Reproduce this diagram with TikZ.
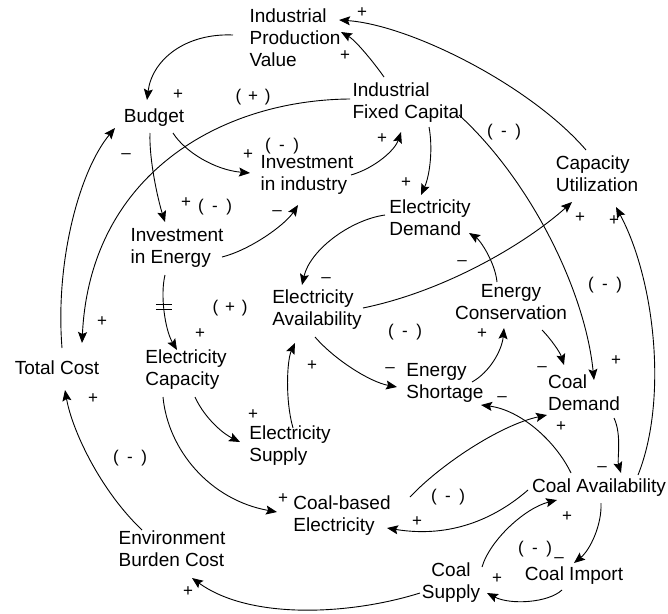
\documentclass[tikz,border=0pt]{standalone}
\usepackage{fontspec}
\setmainfont{Liberation Sans}
\usetikzlibrary{arrows.meta}
\begin{document}
\begin{tikzpicture}[x=1pt,y=-1pt,
  var/.style={font=\fontsize{19}{22}\selectfont, inner sep=0pt, align=left},
  varc/.style={var, align=center},
  arr/.style={-{Stealth[length=11pt,width=9pt,inset=2pt]}, line width=0.9pt},
  sg/.style={font=\fontsize{17}{17}\selectfont, inner sep=0pt, text height=1.5ex, text depth=0pt},
  lp/.style={font=\fontsize{17}{17}\selectfont, inner sep=0pt}]
\useasboundingbox[fill=white] (0,0) rectangle (668,613);
% variables
\node[var] (ipv) at (295,38) {Industrial\\Production\\Value};
\node[var] (bud) at (154,118) {Budget};
\node[var] (ifc) at (408,103) {Industrial\\Fixed Capital};
\node[var] (ii) at (307,175) {Investment\\in industry};
\node[var] (cu) at (597,174) {Capacity\\Utilization};
\node[var] (ie) at (177,248) {Investment\\in Energy};
\node[var] (ed) at (430,218) {Electricity\\Demand};
\node[var] (ea) at (317,310) {Electricity\\Availability};
\node[varc] (ec) at (511,302) {Energy\\Conservation};
\node[var] (tc) at (57,368) {Total Cost};
\node[var] (ecap) at (186,370) {Electricity\\Capacity};
\node[var] (es) at (445,383) {Energy\\Shortage};
\node[var] (cd) at (584,393) {Coal\\Demand};
\node[var] (esup) at (290,446) {Electricity\\Supply};
\node[var] (ca) at (599,488) {Coal Availability};
\node[var] (cbe) at (342,516) {Coal-based\\Electricity};
\node[var] (ebc) at (172,549) {Environment\\Burden Cost};
\node[varc] (cs) at (451,583) {Coal\\Supply};
\node[var] (cim) at (574,576) {Coal Import};
% connectors
\draw[arr] ([shift={(-62,-3)}]ipv.center) .. controls (185,33) and (152,60) .. ([shift={(-7,-18)}]bud.center);
\draw[arr] ([shift={(-24,-26)}]ifc.center) .. controls (372,60) and (355,40) .. ([shift={(46,-6)}]ipv.center);
\draw[arr] ([shift={(-11,-24)}]cu.center) .. controls (530,85) and (410,25) .. ([shift={(44,-18)}]ipv.center);
\draw[arr] ([shift={(19,15)}]bud.center) .. controls (185,152) and (215,170) .. ([shift={(-57,-2)}]ii.center);
\draw[arr] ([shift={(-4,15)}]bud.center) .. controls (149,160) and (158,200) .. ([shift={(-12,-26)}]ie.center);
\draw[arr] ([shift={(45,9)}]ie.center) .. controls (250,250) and (285,225) .. ([shift={(-9,30)}]ii.center);
\draw[arr] ([shift={(44,0)}]ii.center) .. controls (375,168) and (395,150) .. ([shift={(-7,29)}]ifc.center);
\draw[arr] ([shift={(21,24)}]ifc.center) .. controls (433,148) and (430,175) .. ([shift={(-9,-23)}]ed.center);
\draw[arr] ([shift={(51,12)}]ifc.center) .. controls (530,180) and (585,290) .. ([shift={(10,-13)}]cd.center);
\draw[arr] ([shift={(-45,-3)}]ed.center) .. controls (350,220) and (310,250) .. ([shift={(-15,-25)}]ea.center);
\draw[arr] ([shift={(46,-2)}]ea.center) .. controls (450,290) and (530,240) .. ([shift={(-25,28)}]cu.center);
\draw[arr] ([shift={(-14,-20)}]ec.center) .. controls (495,262) and (480,240) .. ([shift={(39,15)}]ed.center);
\draw[arr] ([shift={(-2,27)}]ea.center) .. controls (335,360) and (370,382) .. ([shift={(-48,4)}]es.center);
\draw[arr] ([shift={(27,-1)}]es.center) .. controls (490,372) and (502,350) .. ([shift={(-7,26)}]ec.center);
\draw[arr] ([shift={(31,28)}]ec.center) .. controls (550,338) and (560,352) .. ([shift={(-20,-28)}]cd.center);
\draw[arr] ([shift={(-28,-15)}]ca.center) .. controls (555,440) and (520,410) .. ([shift={(36,22)}]es.center);
\draw[arr] ([shift={(68,-19)}]cbe.center) .. controls (440,465) and (500,425) .. ([shift={(-37,22)}]cd.center);
\draw[arr] ([shift={(30,25)}]cd.center) .. controls (622,435) and (617,460) .. ([shift={(22,-15)}]ca.center);
\draw[arr] ([shift={(39,-13)}]ca.center) .. controls (668,400) and (655,280) .. ([shift={(19,33)}]cu.center);
\draw[arr] ([shift={(-71,2)}]ca.center) .. controls (505,510) and (460,540) .. ([shift={(45,12)}]cbe.center);
\draw[arr] ([shift={(31,-16)}]cs.center) .. controls (490,540) and (525,508) .. ([shift={(-42,12)}]ca.center);
\draw[arr] ([shift={(2,15)}]ca.center) .. controls (602,525) and (590,550) .. ([shift={(0,-13)}]cim.center);
\draw[arr] ([shift={(-12,14)}]cim.center) .. controls (548,603) and (510,605) .. ([shift={(36,10)}]cs.center);
\draw[arr] ([shift={(-31,10)}]cs.center) .. controls (350,615) and (250,620) .. ([shift={(20,29)}]ebc.center);
\draw[arr] ([shift={(-30,-19)}]ebc.center) .. controls (100,490) and (72,430) .. ([shift={(8,22)}]tc.center);
\draw[arr] ([shift={(5,-20)}]tc.center) .. controls (55,260) and (80,170) .. ([shift={(-39,10)}]bud.center);
\draw[arr] ([shift={(-58,-4)}]ifc.center) .. controls (220,100) and (90,175) .. ([shift={(25,-25)}]tc.center);
\draw[arr] ([shift={(-12,27)}]ie.center) .. controls (160,295) and (165,330) .. coordinate[pos=0.43] (dmk) ([shift={(-9,-20)}]ecap.center);
\draw[line width=0.9pt] ([shift={(-8,-2.5)}]dmk) -- ++(16,0) ([shift={(-8,2.5)}]dmk) -- ++(16,0);
\draw[arr] ([shift={(9,27)}]ecap.center) .. controls (203,415) and (220,432) .. ([shift={(-50,-4)}]esup.center);
\draw[arr] ([shift={(3,-18)}]esup.center) .. controls (285,400) and (287,360) .. ([shift={(-22,33)}]ea.center);
\draw[arr] ([shift={(-23,27)}]ecap.center) .. controls (168,450) and (210,500) .. ([shift={(-65,-4)}]cbe.center);
% polarity signs
\node[sg] (s1) at (178,96) {+};
\node[sg] (s2) at (345,57) {+};
\node[sg] (s3) at (362,14) {+};
\node[sg] (s4) at (248,156) {+};
\node[sg] (s5) at (126,155) {\textendash};
\node[sg] (s6) at (186,204) {+};
\node[sg] (s7) at (277,212) {\textendash};
\node[sg] (s8) at (382,140) {+};
\node[sg] (s9) at (406,184) {+};
\node[sg] (s10) at (616,362) {+};
\node[sg] (s11) at (326,279) {\textendash};
\node[sg] (s12) at (580,219) {+};
\node[sg] (s13) at (462,262) {\textendash};
\node[sg] (s14) at (390,369) {\textendash};
\node[sg] (s15) at (482,335) {+};
\node[sg] (s16) at (542,368) {\textendash};
\node[sg] (s17) at (502,398) {\textendash};
\node[sg] (s18) at (561,428) {+};
\node[sg] (s19) at (602,468) {\textendash};
\node[sg] (s20) at (614,222) {+};
\node[sg] (s21) at (417,523) {+};
\node[sg] (s22) at (567,518) {+};
\node[sg] (s23) at (559,559) {\textendash};
\node[sg] (s24) at (497,580) {+};
\node[sg] (s25) at (188,593) {+};
\node[sg] (s26) at (93,400) {+};
\node[sg] (s27) at (102,323) {+};
\node[sg] (s28) at (200,335) {+};
\node[sg] (s29) at (253,416) {+};
\node[sg] (s30) at (312,367) {+};
\node[sg] (s31) at (283,500) {+};
% loop labels
\node[lp] (l1) at (253,97) {(\hspace{0.4em}+\hspace{0.4em})};
\node[lp] (l2) at (282,146) {(\hspace{0.5em}-\hspace{0.5em})};
\node[lp] (l3) at (215,207) {(\hspace{0.5em}-\hspace{0.5em})};
\node[lp] (l4) at (504,132) {(\hspace{0.5em}-\hspace{0.5em})};
\node[lp] (l5) at (405,332) {(\hspace{0.5em}-\hspace{0.5em})};
\node[lp] (l6) at (605,285) {(\hspace{0.5em}-\hspace{0.5em})};
\node[lp] (l7) at (448,497) {(\hspace{0.5em}-\hspace{0.5em})};
\node[lp] (l8) at (535,549) {(\hspace{0.5em}-\hspace{0.5em})};
\node[lp] (l9) at (130,458) {(\hspace{0.5em}-\hspace{0.5em})};
\node[lp] (l10) at (230,308) {(\hspace{0.4em}+\hspace{0.4em})};
\end{tikzpicture}
\end{document}
